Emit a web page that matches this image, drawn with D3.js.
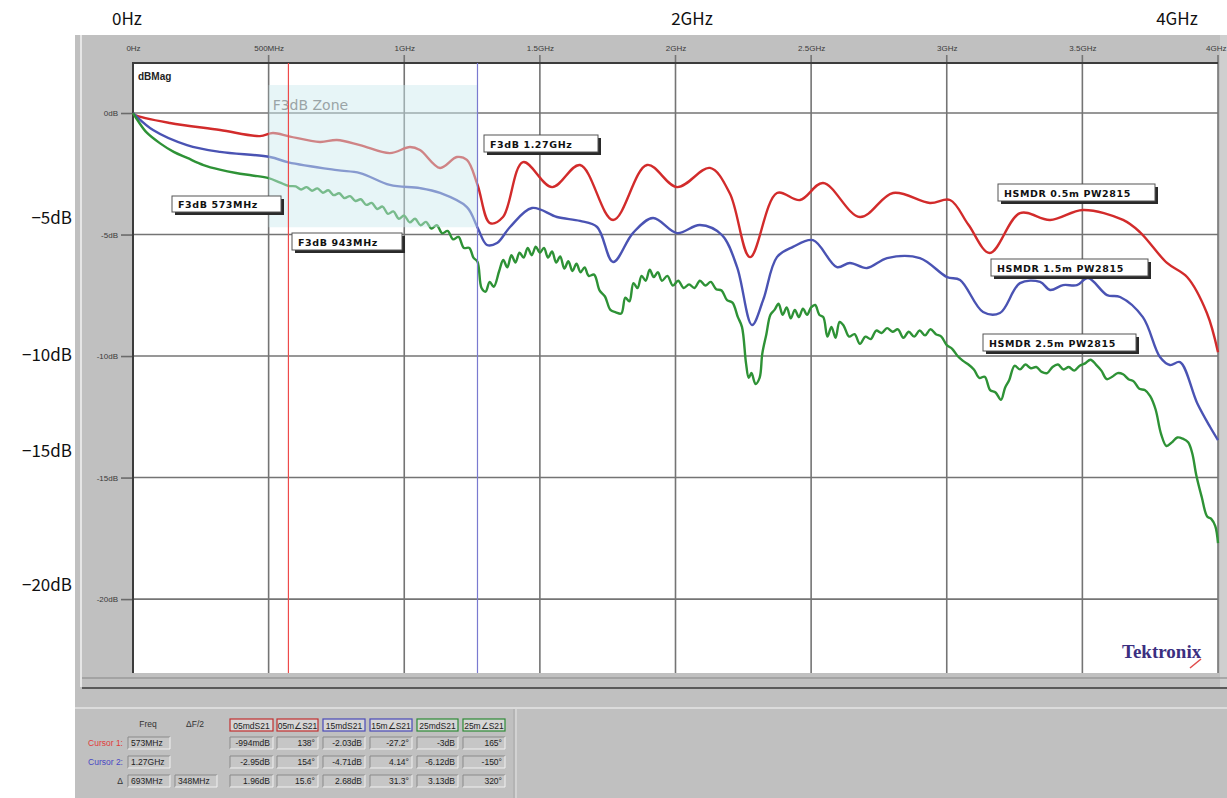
<!DOCTYPE html>
<html>
<head>
<meta charset="utf-8">
<script src="https://cdn.jsdelivr.net/npm/d3@7"></script>
<style>
  body { margin: 0; background: #fff; }
  svg { display: block; }
</style>
</head>
<body>
<svg id="chart" width="1227" height="798"></svg>
<script>
// ---- axis ticks ----
const freqTicks = [0, 0.5, 1, 1.5, 2, 2.5, 3, 3.5, 4];               // GHz
const freqTickLabels = ["0Hz", "500MHz", "1GHz", "1.5GHz", "2GHz", "2.5GHz", "3GHz", "3.5GHz", "4GHz"];
const dbTicks = [0, -5, -10, -15, -20];
const dbTickLabels = ["0dB", "-5dB", "-10dB", "-15dB", "-20dB"];
const outerFreqLabels = ["0Hz", "2GHz", "4GHz"];
const outerDbLabels = ["−5dB", "−10dB", "−15dB", "−20dB"];

// ---- S21 magnitude traces: [frequency GHz, dB] ----
const cable05 = [
  [0,0],[0.007,-0.08],[0.136,-0.41],[0.321,-0.70],[0.468,-0.95],[0.516,-0.82],[0.579,-0.97],
  [0.689,-1.19],[0.752,-1.11],[0.837,-1.32],[0.947,-1.65],[1.021,-1.40],[1.058,-1.52],
  [1.132,-2.26],[1.194,-1.81],[1.231,-1.93],[1.27,-2.95],[1.316,-4.53],[1.364,-4.28],
  [1.438,-2.02],[1.545,-3.05],[1.648,-2.14],[1.770,-4.40],[1.895,-2.14],[2.006,-3.05],
  [2.127,-2.26],[2.20,-3.3],[2.275,-5.93],[2.374,-3.29],[2.459,-3.58],[2.544,-2.88],[2.680,-4.28],
  [2.802,-3.29],[2.938,-3.70],[3.012,-3.58],[3.08,-4.6],[3.159,-5.76],[3.270,-4.12],[3.381,-4.40],
  [3.502,-3.99],[3.650,-4.40],[3.712,-4.90],[3.812,-6.17],[3.886,-6.75],[3.959,-8.23],[4.0,-9.84]
];
const cable15 = [
  [0,0],[0.007,-0.08],[0.074,-0.70],[0.199,-1.32],[0.321,-1.60],[0.505,-1.81],[0.573,-2.03],
  [0.752,-2.35],[0.837,-2.47],[0.947,-2.96],[1.058,-3.09],[1.132,-3.29],[1.231,-3.87],
  [1.27,-4.71],[1.305,-5.43],[1.342,-5.35],[1.390,-4.69],[1.471,-3.91],[1.563,-4.28],
  [1.648,-4.44],[1.711,-4.69],[1.770,-6.13],[1.843,-4.94],[1.917,-4.32],[2.006,-4.94],
  [2.090,-4.61],[2.171,-5.02],[2.227,-6.34],[2.282,-8.72],[2.323,-7.70],[2.374,-5.93],
  [2.433,-5.51],[2.507,-5.23],[2.595,-6.34],[2.643,-6.17],[2.706,-6.38],[2.780,-5.97],
  [2.901,-5.97],[3.001,-6.75],[3.049,-6.87],[3.134,-8.19],[3.196,-8.23],[3.270,-7.00],
  [3.344,-6.95],[3.381,-7.28],[3.429,-7.08],[3.480,-7.08],[3.521,-6.79],[3.591,-7.49],
  [3.639,-7.57],[3.723,-8.40],[3.786,-10.04],[3.823,-10.37],[3.860,-10.25],[3.923,-11.93],
  [3.971,-12.92],[4.0,-13.46]
];
const cable25 = [
  [0,0],[0.02,-0.35],[0.05,-0.80],[0.10,-1.25],[0.15,-1.60],[0.20,-1.85],[0.26,-2.14],
  [0.32,-2.33],[0.38,-2.47],[0.44,-2.57],[0.50,-2.68],[0.54,-2.85],[0.573,-3.00],[0.60,-3.02],
  [0.62,-3.15],[0.64,-3.05],[0.66,-3.20],[0.68,-3.10],[0.70,-3.28],[0.72,-3.18],[0.74,-3.38],
  [0.76,-3.30],[0.78,-3.50],[0.80,-3.42],[0.82,-3.62],[0.84,-3.55],[0.86,-3.78],[0.88,-3.70],
  [0.90,-3.95],[0.92,-3.85],[0.94,-4.15],[0.96,-4.05],[0.98,-4.35],[1.00,-4.22],[1.02,-4.50],
  [1.04,-4.35],[1.06,-4.62],[1.08,-4.48],[1.10,-4.75],[1.12,-4.62],[1.14,-4.95],[1.16,-4.85],
  [1.18,-5.20],[1.20,-5.10],[1.22,-5.55],[1.24,-5.55],[1.255,-5.95],[1.27,-6.12],[1.285,-7.20],
  [1.30,-7.35],[1.315,-6.95],[1.33,-7.15],[1.35,-6.50],[1.365,-6.05],[1.38,-6.35],[1.395,-5.85],
  [1.41,-6.15],[1.425,-5.75],[1.44,-5.95],[1.455,-5.55],[1.47,-5.85],[1.485,-5.50],[1.50,-5.75],
  [1.515,-5.55],[1.53,-5.95],[1.545,-5.70],[1.56,-6.15],[1.575,-5.90],[1.59,-6.40],[1.605,-6.10],
  [1.62,-6.50],[1.635,-6.20],[1.65,-6.55],[1.665,-6.35],[1.68,-6.70],[1.70,-6.65],[1.72,-7.30],
  [1.74,-7.55],[1.76,-8.10],[1.78,-8.20],[1.80,-8.25],[1.815,-7.60],[1.83,-7.75],[1.845,-7.00],
  [1.86,-7.20],[1.875,-6.70],[1.89,-6.90],[1.905,-6.45],[1.92,-6.75],[1.935,-6.55],[1.95,-6.90],
  [1.97,-6.70],[1.99,-7.10],[2.01,-6.90],[2.03,-7.20],[2.05,-7.05],[2.07,-7.20],[2.09,-6.90],
  [2.11,-7.10],[2.13,-6.95],[2.15,-7.25],[2.17,-7.30],[2.19,-7.70],[2.21,-7.80],[2.23,-8.40],
  [2.245,-8.80],[2.26,-10.30],[2.27,-10.90],[2.28,-10.70],[2.295,-11.15],[2.31,-10.90],
  [2.32,-9.90],[2.335,-9.10],[2.35,-8.30],[2.365,-8.10],[2.38,-7.85],[2.395,-8.30],[2.41,-8.00],
  [2.425,-8.45],[2.44,-8.10],[2.455,-8.40],[2.47,-8.05],[2.485,-8.30],[2.50,-8.00],[2.515,-7.90],
  [2.53,-8.30],[2.545,-8.40],[2.56,-9.20],[2.575,-8.80],[2.59,-9.25],[2.605,-8.60],[2.62,-8.75],
  [2.64,-9.20],[2.66,-9.10],[2.68,-9.50],[2.70,-9.20],[2.72,-9.30],[2.74,-8.95],[2.76,-9.05],
  [2.78,-8.85],[2.80,-9.00],[2.82,-8.90],[2.84,-9.25],[2.86,-9.00],[2.88,-9.20],[2.90,-8.95],
  [2.92,-9.15],[2.94,-8.90],[2.96,-9.10],[2.98,-9.20],[3.00,-9.55],[3.02,-9.70],[3.04,-10.00],
  [3.06,-10.20],[3.08,-10.35],[3.10,-10.55],[3.12,-10.90],[3.14,-10.85],[3.16,-11.40],
  [3.18,-11.50],[3.20,-11.80],[3.215,-11.30],[3.23,-11.00],[3.25,-10.40],[3.27,-10.55],
  [3.29,-10.35],[3.31,-10.50],[3.33,-10.45],[3.35,-10.65],[3.37,-10.70],[3.39,-10.45],
  [3.41,-10.35],[3.43,-10.55],[3.45,-10.45],[3.47,-10.60],[3.49,-10.40],[3.51,-10.30],
  [3.53,-10.15],[3.55,-10.35],[3.57,-10.60],[3.59,-10.95],[3.61,-10.85],[3.63,-10.70],
  [3.65,-10.75],[3.67,-10.95],[3.69,-11.05],[3.71,-11.35],[3.73,-11.40],[3.75,-11.65],
  [3.77,-12.20],[3.79,-13.20],[3.81,-13.70],[3.83,-13.55],[3.85,-13.35],[3.87,-13.40],
  [3.89,-13.55],[3.905,-14.00],[3.92,-14.90],[3.94,-15.80],[3.96,-16.60],[3.975,-16.70],
  [3.99,-17.00],[4.0,-17.70]
];
const seriesNames = ["HSMDR 0.5m PW2815", "HSMDR 1.5m PW2815", "HSMDR 2.5m PW2815"];
const seriesColors = ["#d22b2b", "#4a53b3", "#2e9236"];

// ---- cursors and -3 dB zone ----
const cursorFreqs = [0.573, 1.27];
const cursorColors = ["#ee4a4a", "#7a7ad0"];
const zoneFreqs = [0.5, 1.27];
const zoneDb = [1.15, -4.7];
const markerLabels = ["F3dB 573MHz", "F3dB 943MHz", "F3dB 1.27GHz"];

// ---- cursor readout table ----
const tableHeads = ["05mdS21", "05m∠S21", "15mdS21", "15m∠S21", "25mdS21", "25m∠S21"];
const headColors = ["#c23030", "#c23030", "#4a4ab8", "#4a4ab8", "#2e8a36", "#2e8a36"];
const rowNames = ["Cursor 1:", "Cursor 2:", "Δ"];
const rowFreq = ["573MHz", "1.27GHz", "693MHz"];
const rowHalf = ["", "", "348MHz"];
const rowValues = [
  ["-994mdB", "138°", "-2.03dB", "-27.2°", "-3dB", "165°"],
  ["-2.95dB", "154°", "-4.71dB", "4.14°", "-6.12dB", "-150°"],
  ["1.96dB", "15.6°", "2.68dB", "31.3°", "3.13dB", "320°"]
];

// ================= drawing =================
const svg = d3.select("#chart");
const plot = { left: 133, right: 1218, top: 63, bottom: 673 };
const x = d3.scaleLinear().domain([0, 4]).range([plot.left, plot.right]);
const y = d3.scaleLinear().domain([2, -23]).range([64.4, 672]);

// instrument window background
svg.append("rect").attr("x", 75).attr("y", 35).attr("width", 1152).attr("height", 763).attr("fill", "#c0c0c0");
svg.append("line").attr("x1", 81).attr("x2", 81).attr("y1", 35).attr("y2", 687)
  .attr("stroke", "#e6e6e6").attr("stroke-width", 2);
svg.append("rect").attr("x", 1220).attr("y", 35).attr("width", 7).attr("height", 652).attr("fill", "#cfcfcf");
svg.append("rect").attr("x", plot.left).attr("y", plot.top)
  .attr("width", plot.right - plot.left).attr("height", plot.bottom - plot.top).attr("fill", "#fff");

// lower frame lines
svg.append("line").attr("x1", 82).attr("x2", 1227).attr("y1", 678).attr("y2", 678)
  .attr("stroke", "#9a9a9a").attr("stroke-width", 1.5);
svg.append("line").attr("x1", 82).attr("x2", 1227).attr("y1", 688).attr("y2", 688)
  .attr("stroke", "#5a5a5a").attr("stroke-width", 2);
svg.append("line").attr("x1", 75).attr("x2", 1227).attr("y1", 708).attr("y2", 708)
  .attr("stroke", "#e4e4e4").attr("stroke-width", 1.5);
svg.append("line").attr("x1", 514).attr("x2", 514).attr("y1", 709).attr("y2", 798)
  .attr("stroke", "#a8a8a8").attr("stroke-width", 1);
svg.append("line").attr("x1", 516).attr("x2", 516).attr("y1", 709).attr("y2", 798)
  .attr("stroke", "#e4e4e4").attr("stroke-width", 1);

// grid
const grid = svg.append("g");
grid.selectAll("line.v").data(freqTicks.slice(1)).join("line").attr("class", "v")
  .attr("x1", d => x(d)).attr("x2", d => x(d)).attr("y1", 55).attr("y2", plot.bottom)
  .attr("stroke", "#747474").attr("stroke-width", 1.6);
grid.selectAll("line.h").data(dbTicks).join("line").attr("class", "h")
  .attr("x1", plot.left).attr("x2", plot.right).attr("y1", d => y(d)).attr("y2", d => y(d))
  .attr("stroke", "#747474").attr("stroke-width", 1.6);

// axes (labels + short ticks)
const xAxis = d3.axisTop(x).tickValues(freqTicks).tickFormat((d, i) => freqTickLabels[i])
  .tickSize(0).tickPadding(3);
const gx = svg.append("g").attr("transform", "translate(0,54)").call(xAxis);
gx.select(".domain").remove();
gx.selectAll("text").attr("font-family", "Liberation Sans, Arial, sans-serif")
  .attr("font-size", 8).attr("fill", "#3a3a3a");
// last label sits against the window edge
gx.selectAll("text").filter((d, i) => i === freqTicks.length - 1)
  .attr("text-anchor", "end").attr("x", 8);

const yAxis = d3.axisLeft(y).tickValues(dbTicks).tickFormat((d, i) => dbTickLabels[i])
  .tickSize(12).tickPadding(3);
const gy = svg.append("g").attr("transform", `translate(${plot.left},0)`).call(yAxis);
gy.select(".domain").remove();
gy.selectAll(".tick line").attr("stroke", "#6a6a6a").attr("stroke-width", 1.6);
gy.selectAll("text").attr("font-family", "Liberation Sans, Arial, sans-serif")
  .attr("font-size", 8).attr("fill", "#3a3a3a");

// plot frame (left and top edges)
svg.append("line").attr("x1", plot.left).attr("x2", plot.left).attr("y1", plot.top - 1).attr("y2", plot.bottom)
  .attr("stroke", "#3c3c3c").attr("stroke-width", 2);
svg.append("line").attr("x1", plot.left).attr("x2", plot.right).attr("y1", plot.top).attr("y2", plot.top)
  .attr("stroke", "#3c3c3c").attr("stroke-width", 2);

svg.append("text").attr("x", 138).attr("y", 80).text("dBMag")
  .attr("font-family", "Liberation Sans, Arial, sans-serif").attr("font-weight", "bold")
  .attr("font-size", 10).attr("fill", "#222");

// traces
const line = d3.line().x(d => x(d[0])).y(d => y(d[1])).curve(d3.curveCatmullRom.alpha(0.5));
const traces = [cable05, cable15, cable25];
svg.append("g").selectAll("path").data(traces).join("path")
  .attr("d", line).attr("fill", "none")
  .attr("stroke", (d, i) => seriesColors[i]).attr("stroke-width", 2.4)
  .attr("stroke-linejoin", "round");

// -3 dB zone overlay
svg.append("rect")
  .attr("x", x(zoneFreqs[0])).attr("width", x(zoneFreqs[1]) - x(zoneFreqs[0]))
  .attr("y", y(zoneDb[0])).attr("height", y(zoneDb[1]) - y(zoneDb[0]))
  .attr("fill", "rgb(205,233,238)").attr("opacity", 0.47);
svg.append("text").attr("x", x(zoneFreqs[0]) + 4).attr("y", y(zoneDb[0]) + 25).text("F3dB Zone")
  .attr("font-family", "DejaVu Sans, sans-serif").attr("font-size", 14).attr("fill", "#9aa4a6");

// cursors
svg.append("g").selectAll("line").data(cursorFreqs).join("line")
  .attr("x1", d => x(d)).attr("x2", d => x(d)).attr("y1", plot.top).attr("y2", plot.bottom)
  .attr("stroke", (d, i) => cursorColors[i]).attr("stroke-width", 1.2);

// tag boxes with drop shadow
function tag(bx, by, w, h, label) {
  const g = svg.append("g");
  g.append("rect").attr("x", bx + 3).attr("y", by + 3).attr("width", w).attr("height", h).attr("fill", "#2a2a2a");
  g.append("rect").attr("x", bx).attr("y", by).attr("width", w).attr("height", h)
    .attr("fill", "#fff").attr("stroke", "#555").attr("stroke-width", 1);
  g.append("text").attr("x", bx + 6).attr("y", by + h / 2 + 4).text(label)
    .attr("font-family", "DejaVu Sans, sans-serif").attr("font-weight", "bold")
    .attr("font-size", 9.5).attr("letter-spacing", 0.6).attr("fill", "#111");
}
tag(172, 196, 109, 16, markerLabels[0]);
tag(292, 233, 110, 17, markerLabels[1]);
tag(484, 135, 114, 17, markerLabels[2]);
tag(998, 184, 157, 17, seriesNames[0]);
tag(991, 259, 157, 17, seriesNames[1]);
tag(983, 334, 153, 17, seriesNames[2]);

// maker logo
svg.append("text").attr("x", 1122).attr("y", 658).text("Tektronix")
  .attr("font-family", "Liberation Serif, serif").attr("font-weight", "bold")
  .attr("font-size", 19).attr("fill", "#3b2f80");
svg.append("line").attr("x1", 1190).attr("y1", 668).attr("x2", 1201).attr("y2", 659)
  .attr("stroke", "#e04a4a").attr("stroke-width", 1.5);

// ---- readout table ----
const tbl = svg.append("g").attr("font-family", "Liberation Sans, Arial, sans-serif").attr("font-size", 8.5);
const colX = [[230, 273], [277, 318], [323, 365], [370, 412], [417, 458], [463, 505]];
const rowY = [737, 756, 775];
const boxH = 12;
tbl.append("text").attr("x", 148).attr("y", 727).attr("text-anchor", "middle").text("Freq").attr("fill", "#333");
tbl.append("text").attr("x", 195).attr("y", 727).attr("text-anchor", "middle").text("ΔF/2").attr("fill", "#333");
colX.forEach((c, i) => {
  tbl.append("rect").attr("x", c[0]).attr("y", 719).attr("width", c[1] - c[0]).attr("height", boxH)
    .attr("fill", "#d6d6d6").attr("stroke", headColors[i]).attr("stroke-width", 1.2);
  tbl.append("text").attr("x", (c[0] + c[1]) / 2).attr("y", 728.5).attr("text-anchor", "middle")
    .text(tableHeads[i]).attr("fill", "#222");
});
function sunken(bx, by, w, h) {
  tbl.append("rect").attr("x", bx).attr("y", by).attr("width", w).attr("height", h).attr("fill", "#c6c6c6");
  tbl.append("path").attr("d", `M${bx},${by + h}V${by}H${bx + w}`).attr("fill", "none").attr("stroke", "#8a8a8a");
  tbl.append("path").attr("d", `M${bx + w},${by}V${by + h}H${bx}`).attr("fill", "none").attr("stroke", "#f0f0f0");
}
const rowColors = ["#e03a3a", "#4848c4", "#333"];
rowNames.forEach((name, r) => {
  const ry = rowY[r];
  tbl.append("text").attr("x", 123).attr("y", ry + 9).attr("text-anchor", "end").text(name).attr("fill", rowColors[r]);
  sunken(128, ry, 42, boxH);
  tbl.append("text").attr("x", 131).attr("y", ry + 9).text(rowFreq[r]).attr("fill", "#222");
  if (rowHalf[r]) {
    sunken(175, ry, 42, boxH);
    tbl.append("text").attr("x", 178).attr("y", ry + 9).text(rowHalf[r]).attr("fill", "#222");
  }
  colX.forEach((c, i) => {
    sunken(c[0], ry, c[1] - c[0], boxH);
    tbl.append("text").attr("x", c[1] - 3).attr("y", ry + 9).attr("text-anchor", "end")
      .text(rowValues[r][i]).attr("fill", "#222");
  });
});

// ---- outer annotations ----
const ann = svg.append("g").attr("font-family", "Noto Sans CJK JP, sans-serif").attr("font-size", 17).attr("fill", "#111");
const freqAnnX = [127, 692, 1177];
ann.selectAll("text.f").data(outerFreqLabels).join("text").attr("class", "f")
  .attr("x", (d, i) => freqAnnX[i]).attr("y", 25).attr("text-anchor", "middle").text(d => d);
const dbAnnY = [224, 361, 457, 591];
ann.selectAll("text.d").data(outerDbLabels).join("text").attr("class", "d")
  .attr("x", 72).attr("y", (d, i) => dbAnnY[i]).attr("text-anchor", "end").text(d => d);
</script>
</body>
</html>
